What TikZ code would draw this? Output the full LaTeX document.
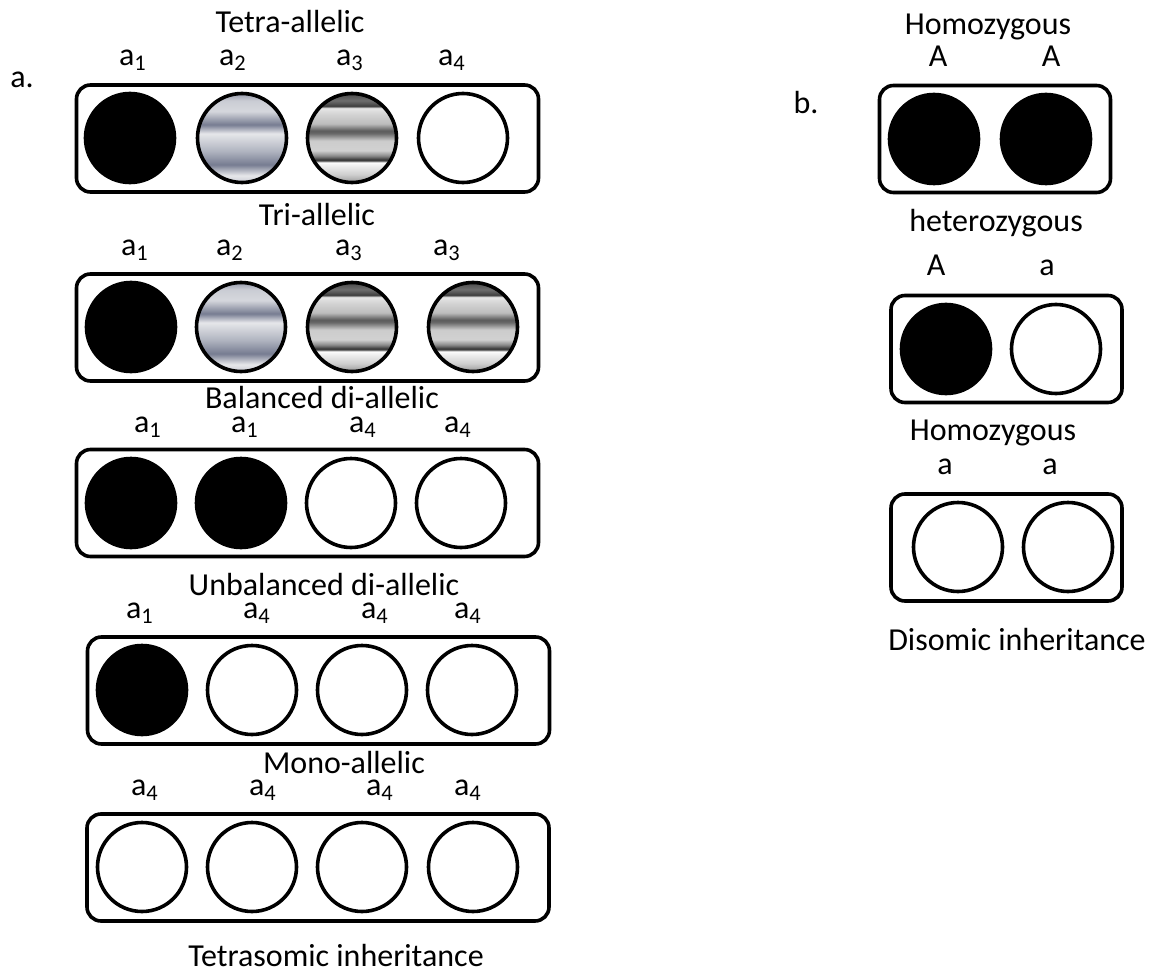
\documentclass[tikz,border=0pt]{standalone}
\usepackage{fontspec}
\setmainfont{Carlito}
\usepackage{tikz}
\usepackage{xcolor}
\usetikzlibrary{positioning}
\definecolor{steel}{RGB}{118,124,145}
\definecolor{steellight}{RGB}{230,231,234}
\definecolor{steelmid}{RGB}{175,179,191}
\definecolor{steeltop}{RGB}{150,155,171}
% banded fills of the two intermediate alleles
\pgfdeclareverticalshading{steelbands}{100bp}{%
  color(0bp)=(steellight!75!steel); color(25bp)=(steellight!75!steel);
  color(29bp)=(steellight); color(35bp)=(steel); color(42.5bp)=(steelmid);
  color(52.5bp)=(steellight); color(57.5bp)=(steel); color(65bp)=(steellight!85!steel);
  color(71bp)=(steellight!75!steel); color(75bp)=(steeltop); color(100bp)=(steeltop)}
\pgfdeclareverticalshading{greybands}{100bp}{%
  color(0bp)=(black!40); color(25bp)=(black!40); color(29.5bp)=(black!19);
  color(35.5bp)=(black!4); color(36.3bp)=(white); color(37.5bp)=(black!84);
  color(40bp)=(black!46); color(43bp)=(black!18); color(48.5bp)=(black!20);
  color(52.5bp)=(black!58); color(54bp)=(black!65); color(58bp)=(black!26);
  color(63.5bp)=(black!17); color(67bp)=(black!9); color(67.75bp)=(black!77);
  color(71bp)=(black!57); color(75bp)=(black!71); color(100bp)=(black!71)}

\begin{document}
\begin{tikzpicture}[
  x=0.5pt, y=-0.5pt,
  font=\fontsize{16}{19}\selectfont,
  allele/.style={circle, draw, line width=1.8pt, minimum size=44.5pt, inner sep=0pt},
  filled/.style={allele, fill=black},
  empty/.style={allele, fill=white},
  striped/.style={allele, shade, shading=steelbands},
  banded/.style={allele, shade, shading=greybands},
  chrom/.style={rectangle, rounded corners=7pt, draw, line width=1.8pt,
    minimum width=#1, minimum height=53.5pt, inner sep=0pt},
  lab/.style={inner sep=0pt},
  gene/.style={inner sep=0pt, anchor=base},
  title/.style={inner sep=0pt}
]
\useasboundingbox (0,0) rectangle (1156,973);

% a. tetrasomic
\node[lab] (pa) at (22,80) {a.};

\node[title] (t1) at (290,22) {Tetra-allelic};
\foreach \x/\s [count=\i] in {133/1,233/2,350/3,452/4}
  \node[lab] (l1\i) at (\x,60) {a\textsubscript{\s}};
\node[chrom=231pt] (r1) at (307.5,138.5) {};
\foreach \x/\kind [count=\i] in {130/filled,242/striped,352/banded,463/empty}
  \node[\kind] (c1\i) at (\x,138) {};

\node[title] (t2) at (317,215) {Tri-allelic};
\foreach \x/\s [count=\i] in {135/1,230/2,349/3,447/3}
  \node[lab] (l2\i) at (\x,250) {a\textsubscript{\s}};
\node[chrom=231pt] (r2) at (307.5,327.5) {};
\foreach \x/\kind [count=\i] in {131/filled,241/striped,352/banded,473/banded}
  \node[\kind] (c2\i) at (\x,327) {};

\node[title] (t3) at (322,398) {Balanced di-allelic};
\foreach \x/\s [count=\i] in {148/1,245/1,363/4,458/4}
  \node[lab] (l3\i) at (\x,427) {a\textsubscript{\s}};
\node[chrom=231pt] (r3) at (307.5,503) {};
\foreach \x/\kind [count=\i] in {131/filled,241/filled,351/empty,461/empty}
  \node[\kind] (c3\i) at (\x,503) {};

\node[title] (t4) at (324,585) {Unbalanced di-allelic};
\foreach \x/\s [count=\i] in {140/1,257/4,375/4,468/4}
  \node[lab] (l4\i) at (\x,613) {a\textsubscript{\s}};
\node[chrom=231pt] (r4) at (318.5,690.5) {};
\foreach \x/\kind [count=\i] in {142/filled,252/empty,362/empty,472/empty}
  \node[\kind] (c4\i) at (\x,690) {};

\node[title] (t5) at (344,763) {Mono-allelic};
\foreach \x/\s [count=\i] in {145/4,263/4,380/4,468/4}
  \node[lab] (l5\i) at (\x,790) {a\textsubscript{\s}};
\node[chrom=231pt] (r5) at (318,867.5) {};
\foreach \x/\kind [count=\i] in {142/empty,252/empty,362/empty,473/empty}
  \node[\kind] (c5\i) at (\x,867) {};

\node[title] (tetra) at (336,955) {Tetrasomic inheritance};

% b. disomic
\node[lab] (pb) at (806,103) {b.};

\node[title] (h1) at (988,27) {Homozygous};
\node[gene] (m11) at (938,67) {A};
\node[gene] (m12) at (1051,67) {A};
\node[chrom=115.5pt] (b1) at (995,139) {};
\node[filled] (d11) at (934,139) {};
\node[filled] (d12) at (1046,139) {};

\node[title] (h2) at (996,223) {heterozygous};
\node[gene] (m21) at (936,276) {A};
\node[gene] (m22) at (1047,276) {a};
\node[chrom=115.5pt] (b2) at (1006.5,349) {};
\node[filled] (d21) at (946,349) {};
\node[empty] (d22) at (1056,349) {};

\node[title] (h3) at (993,433) {Homozygous};
\node[gene] (m31) at (945,474) {a};
\node[gene] (m32) at (1050,474) {a};
\node[chrom=115.5pt] (b3) at (1006.5,547.5) {};
\node[empty] (d31) at (958,547) {};
\node[empty] (d32) at (1068,547) {};

\node[title] (di) at (1017,640) {Disomic inheritance};
\end{tikzpicture}
\end{document}
